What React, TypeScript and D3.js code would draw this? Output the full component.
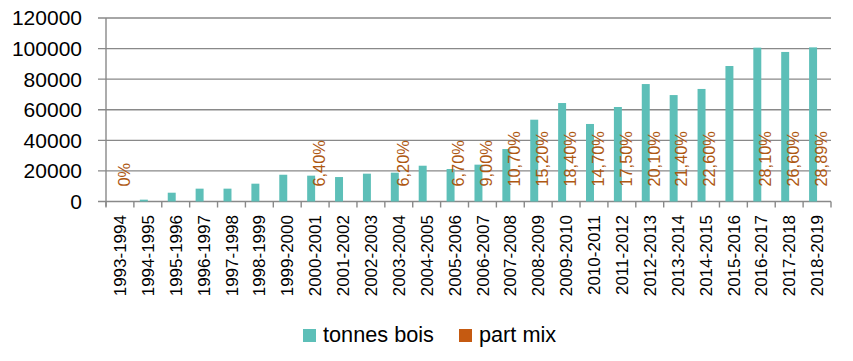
import React from "react";
import * as d3 from "d3";

const categories = [
  "1993-1994", "1994-1995", "1995-1996", "1996-1997", "1997-1998", "1998-1999",
  "1999-2000", "2000-2001", "2001-2002", "2002-2003", "2003-2004", "2004-2005",
  "2005-2006", "2006-2007", "2007-2008", "2008-2009", "2009-2010", "2010-2011",
  "2011-2012", "2012-2013", "2013-2014", "2014-2015", "2015-2016", "2016-2017",
  "2017-2018", "2018-2019",
];
const tonnesBois = [
  0, 1200, 5750, 8400, 8400, 11650, 17500, 16900, 16000, 18200, 18850, 23400,
  21250, 24100, 34300, 53500, 64400, 50700, 61800, 76800, 69600, 73600, 88600,
  100600, 97800, 100800,
];
// part mix in percent (null = no label)
const partMix: (number | null)[] = [
  0, null, null, null, null, null, null, 6.4, null, null, 6.2, null, 6.7, 9.0,
  10.7, 15.2, 18.4, 14.7, 17.5, 20.1, 21.4, 22.6, null, 28.1, 26.6, 28.89,
];
const yTicks = [0, 20000, 40000, 60000, 80000, 100000, 120000];
const seriesNames = ["tonnes bois", "part mix"];

const W = 853;
const H = 361;
const left = 106;
const right = 831;
const top = 18;
const bottom = 201.5;
const teal = "#5DBFB8";
const orange = "#C55A11";
const labelOrange = "#AE5812";
const grid = "#898989";
const font = "'Liberation Sans', Arial, sans-serif";

function fmtPct(v: number) {
  return v === 0 ? "0%" : v.toFixed(2).replace(".", ",") + "%";
}

export default function App() {
  const x0 = d3.scaleBand<string>().domain(categories).range([left, right]).padding(0);
  const x1 = d3
    .scaleBand<string>()
    .domain(seriesNames)
    .range([0, x0.bandwidth()])
    .paddingInner(0)
    .paddingOuter(0.75);
  const y = d3.scaleLinear().domain([0, 120000]).range([bottom, top]);

  const boundaries = categories.map((c) => x0(c)!).concat([right]);

  return (
    <svg
      width={W}
      height={H}
      style={{ position: "absolute", left: 0, top: 0, background: "#fff" }}
      fontFamily={font}
    >
      {/* gridlines */}
      {yTicks.map((t) => (
        <line key={"g" + t} x1={98} x2={right} y1={y(t)} y2={y(t)} stroke={grid} strokeWidth={1.4} />
      ))}
      {/* y labels */}
      {yTicks.map((t) => (
        <text
          key={"yl" + t}
          x={82}
          y={y(t)}
          dy="0.35em"
          textAnchor="end"
          fontSize={21}
          fill="#000"
        >
          {t}
        </text>
      ))}
      {/* y axis */}
      <line x1={left} x2={left} y1={top} y2={bottom + 5} stroke={grid} strokeWidth={1.4} />
      {/* x ticks */}
      {boundaries.map((b, i) => (
        <line key={"xt" + i} x1={b} x2={b} y1={bottom} y2={bottom + 6} stroke={grid} strokeWidth={1.4} />
      ))}
      {/* bars */}
      {categories.map((c, i) => (
        <rect
          key={"b" + c}
          x={x0(c)! + x1("tonnes bois")!}
          width={x1.bandwidth()}
          y={y(tonnesBois[i])}
          height={bottom - y(tonnesBois[i])}
          fill={teal}
        />
      ))}
      {categories.map((c, i) =>
        partMix[i] === null ? null : (
          <rect
            key={"p" + c}
            x={x0(c)! + x1("part mix")!}
            width={x1.bandwidth()}
            y={y(partMix[i]! / 100)}
            height={bottom - y(partMix[i]! / 100)}
            fill={orange}
          />
        )
      )}
      {/* data labels */}
      {categories.map((c, i) =>
        partMix[i] === null ? null : (
          <text
            key={"dl" + c}
            transform={`translate(${x0(c)! + x1("part mix")! + x1.bandwidth() / 2},186.5) rotate(-90)`}
            dy="0.36em"
            textAnchor="start"
            fontSize={16.3}
            fill={labelOrange}
          >
            {fmtPct(partMix[i]!)}
          </text>
        )
      )}
      {/* category labels */}
      {categories.map((c) => (
        <text
          key={"cl" + c}
          transform={`translate(${x0(c)! + x0.bandwidth() / 2},215) rotate(-90)`}
          dy="0.36em"
          textAnchor="end"
          fontSize={17}
          fill="#000"
        >
          {c}
        </text>
      ))}
      {/* legend */}
      <rect x={303} y={329} width={13} height={13} fill={teal} />
      <text x={323} y={342} fontSize={21.7} fill="#000">
        {seriesNames[0]}
      </text>
      <rect x={459} y={329} width={13} height={13} fill={orange} />
      <text x={479} y={342} fontSize={21.7} fill="#000">
        {seriesNames[1]}
      </text>
    </svg>
  );
}
